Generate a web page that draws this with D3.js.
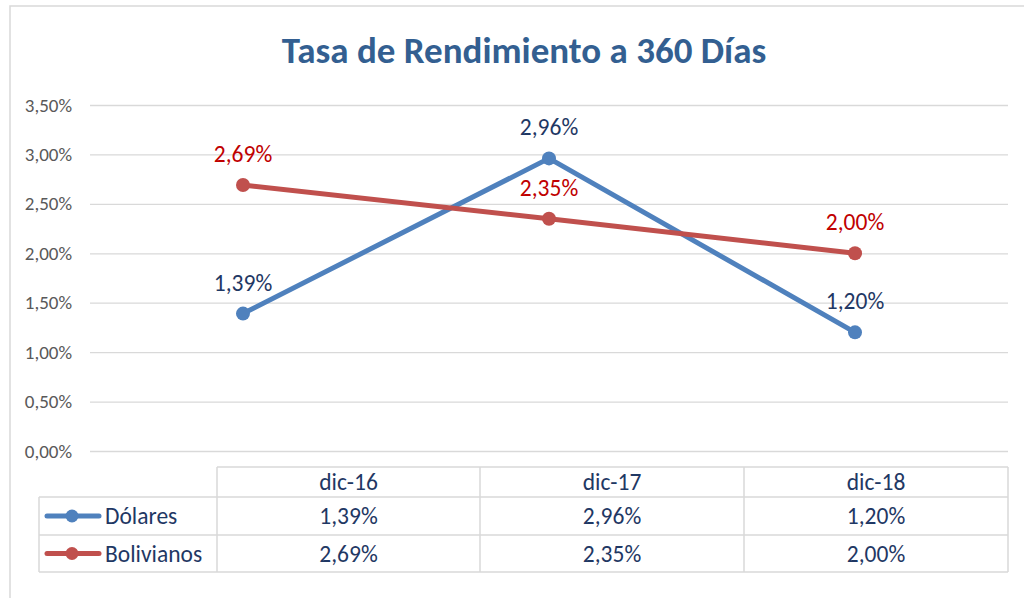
<!DOCTYPE html>
<html>
<head>
<meta charset="utf-8">
<script src="https://cdn.jsdelivr.net/npm/d3@7"></script>
<style>
  html, body { margin: 0; padding: 0; background: #fff; }
  svg { display: block; font-family: Carlito, Lato, "Open Sans", sans-serif; }
</style>
</head>
<body>
<script>
'use strict';

const categories = ["dic-16", "dic-17", "dic-18"];
const dolares = [0.0139, 0.0296, 0.0120];
const bolivianos = [0.0269, 0.0235, 0.0200];
const yTicks = [0, 0.005, 0.01, 0.015, 0.02, 0.025, 0.03, 0.035];
const seriesNames = ["Dólares", "Bolivianos"];

const colors = {
  "Dólares": "#4F81BD",
  "Bolivianos": "#C0504D"
};
const labelColors = {
  "Dólares": "#1F3864",
  "Bolivianos": "#C00000"
};

const series = [
  { name: seriesNames[0], values: dolares },
  { name: seriesNames[1], values: bolivianos }
];

const locale = d3.formatLocale({ decimal: ",", thousands: ".", grouping: [3], currency: ["", ""] });
const pct = locale.format(".2%");

const width = 1024, height = 598;
const textSize = "23.5px";
const svg = d3.select("body").append("svg")
  .attr("width", width)
  .attr("height", height);

// chart frame
svg.append("rect")
  .attr("x", 10).attr("y", 6)
  .attr("width", 1030).attr("height", 620)
  .attr("fill", "#fff")
  .attr("stroke", "#D9D9D9")
  .attr("stroke-width", 1.5);

svg.append("text")
  .attr("x", 524).attr("y", 63)
  .attr("text-anchor", "middle")
  .style("font-size", "37px")
  .style("font-weight", "bold")
  .attr("fill", "#335F91")
  .text("Tasa de Rendimiento a 360 Días");

const xScale = d3.scalePoint()
  .domain(categories)
  .range([90, 1008])
  .padding(0.5);

const yScale = d3.scaleLinear()
  .domain([0, 0.035])
  .range([451, 105]);

// gridlines + y axis
const yAxis = d3.axisLeft(yScale)
  .tickValues(yTicks)
  .tickFormat(pct)
  .tickSize(-(1008 - 90))
  .tickPadding(18);

const gy = svg.append("g")
  .attr("transform", "translate(90,0)")
  .call(yAxis);
gy.select(".domain").remove();
gy.selectAll(".tick line")
  .attr("stroke", "#D9D9D9")
  .attr("stroke-width", 1.3);
gy.selectAll(".tick text")
  .attr("fill", "#595959")
  .style("font-size", "19px")
  .style("font-family", "Carlito, Lato, sans-serif");

// lines
const line = d3.line()
  .x((d, i) => xScale(categories[i]))
  .y(d => yScale(d));

series.forEach(s => {
  svg.append("path")
    .datum(s.values)
    .attr("d", line)
    .attr("fill", "none")
    .attr("stroke", colors[s.name])
    .attr("stroke-width", 5)
    .attr("stroke-linejoin", "round");

  svg.selectAll(".dot-" + s.name)
    .data(s.values)
    .enter()
    .append("circle")
    .attr("cx", (d, i) => xScale(categories[i]))
    .attr("cy", d => yScale(d))
    .attr("r", 7)
    .attr("fill", colors[s.name]);

  svg.selectAll(".lbl-" + s.name)
    .data(s.values)
    .enter()
    .append("text")
    .attr("x", (d, i) => xScale(categories[i]))
    .attr("y", d => yScale(d) - 23)
    .attr("text-anchor", "middle")
    .attr("fill", labelColors[s.name])
    .style("font-size", textSize)
    .text(d => pct(d));
});

// data table
const colEdges = [217, 480, 744, 1008];
const rowEdges = [467, 497, 535, 572];
const keyLeft = 39;
const tbl = svg.append("g")
  .attr("stroke", "#D9D9D9")
  .attr("stroke-width", 1.5)
  .attr("fill", "none");

tbl.append("path").attr("d",
  "M" + colEdges[0] + "," + rowEdges[0] + "H" + colEdges[3] +
  "M" + keyLeft + "," + rowEdges[1] + "H" + colEdges[3] +
  "M" + keyLeft + "," + rowEdges[2] + "H" + colEdges[3] +
  "M" + keyLeft + "," + rowEdges[3] + "H" + colEdges[3] +
  "M" + keyLeft + "," + rowEdges[1] + "V" + rowEdges[3]);
colEdges.forEach(x => {
  tbl.append("line")
    .attr("x1", x).attr("x2", x)
    .attr("y1", rowEdges[0]).attr("y2", rowEdges[3]);
});

const colCenter = i => (colEdges[i] + colEdges[i + 1]) / 2;

svg.selectAll(".hdr")
  .data(categories)
  .enter()
  .append("text")
  .attr("x", (d, i) => colCenter(i))
  .attr("y", 490)
  .attr("text-anchor", "middle")
  .attr("fill", "#1F3864")
  .style("font-size", textSize)
  .text(d => d);

const rowBase = [524, 562];
series.forEach((s, r) => {
  const cy = (rowEdges[r + 1] + rowEdges[r + 2]) / 2;
  svg.append("line")
    .attr("x1", 47).attr("x2", 99)
    .attr("y1", cy).attr("y2", cy)
    .attr("stroke", colors[s.name])
    .attr("stroke-width", 5)
    .attr("stroke-linecap", "round");
  svg.append("circle")
    .attr("cx", 72).attr("cy", cy)
    .attr("r", 6.5)
    .attr("fill", colors[s.name]);
  svg.append("text")
    .attr("x", 105).attr("y", rowBase[r])
    .attr("fill", "#1F3864")
    .style("font-size", textSize)
    .text(s.name);

  svg.selectAll(".cell-" + r)
    .data(s.values)
    .enter()
    .append("text")
    .attr("x", (d, i) => colCenter(i))
    .attr("y", rowBase[r])
    .attr("text-anchor", "middle")
    .attr("fill", "#1F3864")
    .style("font-size", textSize)
    .text(d => pct(d));
});
</script>
</body>
</html>
